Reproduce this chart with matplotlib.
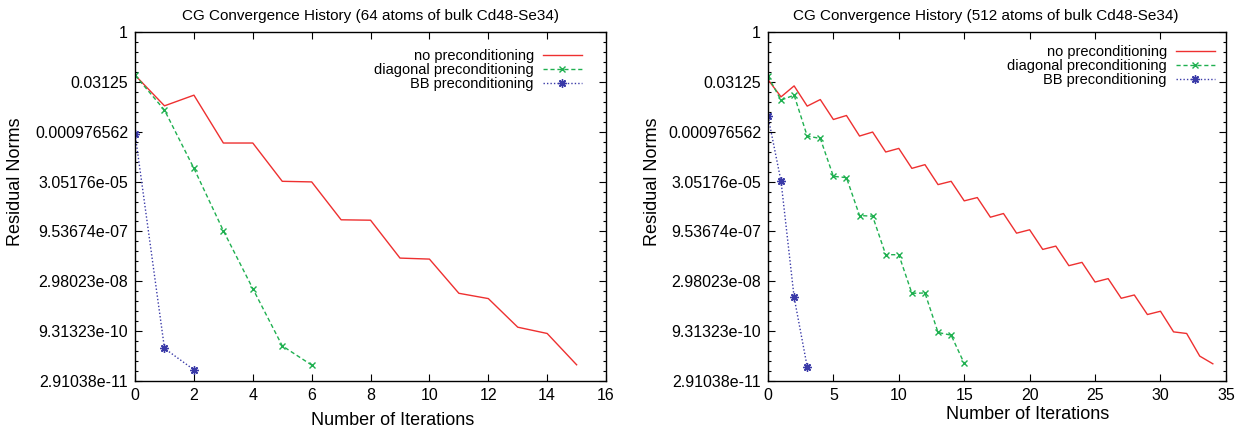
import numpy as np
import matplotlib
matplotlib.use("Agg")
import matplotlib.pyplot as plt
from matplotlib.ticker import FixedLocator, FuncFormatter

plt.rcParams['font.family'] = ['Liberation Sans', 'DejaVu Sans']

# residual norms, as log2 exponents (value = 2**exp)
iters_64_none = list(range(16))
exp_64_none = [-4.33, -7.4, -6.33, -11.13, -11.13, -14.97, -15.03, -18.83, -18.87,
               -22.67, -22.77, -26.2, -26.73, -29.6, -30.23, -33.37]
iters_64_diag = list(range(7))
exp_64_diag = [-4.33, -7.83, -13.67, -19.93, -25.73, -31.47, -33.4]
iters_64_bb = list(range(3))
exp_64_bb = [-10.2, -31.73, -33.87]

iters_512_none = list(range(35))
exp_512_none = [-4.77, -6.5, -5.4, -7.43, -6.77, -8.77, -8.37, -10.43, -10.03, -12.03,
                -11.67, -13.67, -13.3, -15.3, -14.97, -16.93, -16.6, -18.57, -18.2,
                -20.17, -19.83, -21.8, -21.47, -23.43, -23.1, -25.07, -24.73, -26.7,
                -26.37, -28.33, -28.0, -30.07, -30.23, -32.5, -33.27]
iters_512_diag = list(range(16))
exp_512_diag = [-4.43, -6.83, -6.33, -10.43, -10.67, -14.47, -14.6, -18.4, -18.47,
                -22.33, -22.33, -26.2, -26.17, -30.13, -30.4, -33.23]
iters_512_bb = list(range(4))
exp_512_bb = [-8.43, -14.97, -26.6, -33.57]

labels = ["no preconditioning", "diagonal preconditioning", "BB preconditioning"]
titles = ["CG Convergence History (64 atoms of bulk Cd48-Se34)",
          "CG Convergence History (512 atoms of bulk Cd48-Se34)"]

y_major = [2.0 ** -e for e in range(0, 36, 5)]
y_minor = [2.0 ** -e for e in range(0, 36)]

RED = '#ee3030'
GREEN = '#1fb050'
BLUE = '#3a3aa8'

fig = plt.figure(figsize=(12.54, 4.33), dpi=100)
ax1 = fig.add_axes([0.1077, 0.120, 0.3756, 0.806])
ax2 = fig.add_axes([0.6124, 0.120, 0.3652, 0.806])


def draw(ax, none, diag, bb, xmax, xstep, title, title_x, leg_anchor, xlab_xy, ylab_xy):
    ax.plot(none[0], 2.0 ** np.array(none[1]), color=RED, lw=1.0, label=labels[0])
    ax.plot(diag[0], 2.0 ** np.array(diag[1]), color=GREEN, lw=1.0, ls=(0, (3, 2)),
            marker='x', ms=5, mew=1.0, label=labels[1])
    ax.plot(bb[0], 2.0 ** np.array(bb[1]), color=BLUE, lw=1.0, ls=(0, (1, 1.5)),
            marker=(8, 2, 0), ms=6, mew=1.0, label=labels[2])

    ax.set_yscale('log', base=2)
    ax.set_ylim(2.0 ** -35, 1)
    ax.set_xlim(0, xmax)
    ax.yaxis.set_major_locator(FixedLocator(y_major))
    ax.yaxis.set_minor_locator(FixedLocator(y_minor))
    ax.yaxis.set_major_formatter(FuncFormatter(lambda v, p: '%g' % v))
    ax.yaxis.set_minor_formatter(FuncFormatter(lambda v, p: ''))
    ax.set_xticks(np.arange(0, xmax + 1, xstep))

    ax.tick_params(which='both', direction='in', top=True, right=True, labelsize=11.5)
    ax.tick_params(which='major', length=5, width=0.8, pad=5)
    ax.tick_params(which='minor', length=2.5, width=0.8)
    for s in ax.spines.values():
        s.set_linewidth(1.0)

    # gnuplot puts the axis labels a bit off-centre
    ax.set_ylabel("Residual Norms", fontsize=13)
    ax.set_xlabel("Number of Iterations", fontsize=13)
    ax.yaxis.set_label_coords(*ylab_xy)
    ax.xaxis.set_label_coords(*xlab_xy)
    ax.set_title(title, fontsize=11, pad=9, x=title_x)

    ax.legend(loc='upper right', bbox_to_anchor=leg_anchor, frameon=False,
              markerfirst=False, fontsize=10.5, borderpad=0, borderaxespad=0,
              labelspacing=0.0, handlelength=2.7, handletextpad=0.6)


draw(ax1, (iters_64_none, exp_64_none), (iters_64_diag, exp_64_diag),
     (iters_64_bb, exp_64_bb), 16, 2, titles[0], 0.5, (0.949, 0.951),
     (0.546, -0.089), (-0.236, 0.57))
draw(ax2, (iters_512_none, exp_512_none), (iters_512_diag, exp_512_diag),
     (iters_512_bb, exp_512_bb), 35, 5, titles[1], 0.475, (0.976, 0.962),
     (0.566, -0.072), (-0.234, 0.57))

fig.savefig("out.png", dpi=100)
